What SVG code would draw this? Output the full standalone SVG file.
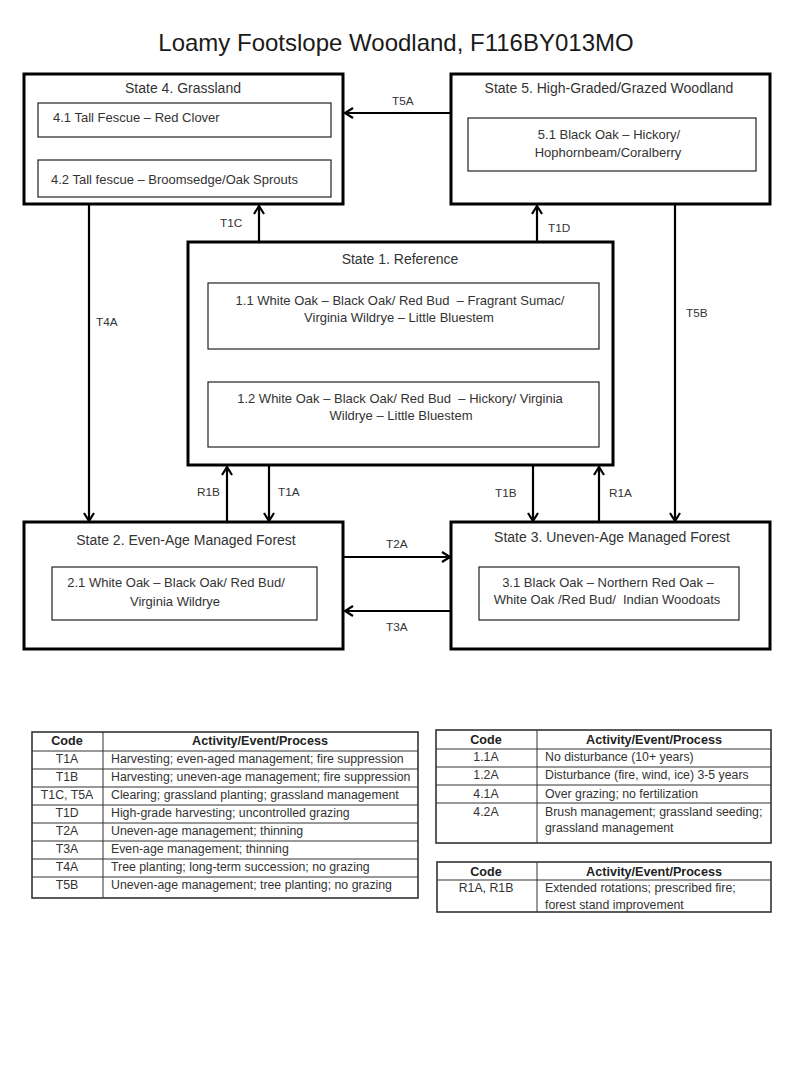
<svg xmlns="http://www.w3.org/2000/svg" width="800" height="1067" viewBox="0 0 800 1067">
<style>
text{font-family:"Liberation Sans",Arial,sans-serif;fill:#333}
.title{font-size:24px;fill:#1a1a1a}
.st{font-size:14px;text-anchor:middle}
.in{font-size:13px}
.c{text-anchor:middle}
.lb{font-size:11.8px}
.state{fill:#fff;stroke:#000;stroke-width:3}
.inner{fill:#fff;stroke:#222;stroke-width:1.2}
.main{stroke:#000;stroke-width:2.2;fill:none;marker-end:url(#ah)}
.thin{stroke:#222;stroke-width:1.1;fill:none;marker-end:url(#ahs)}
.tb{font-size:12.3px}
.th{font-size:12.6px;font-weight:bold;text-anchor:middle;fill:#222}
.grid{stroke:#333;stroke-width:1;fill:none}
.frame{stroke:#333;stroke-width:1.6;fill:none}
</style>
<defs>
<marker id="ah" markerUnits="userSpaceOnUse" viewBox="0 0 12 12" markerWidth="12" markerHeight="12" refX="10" refY="6" orient="auto">
<path d="M2,1 L10,6 L2,11" fill="none" stroke="#000" stroke-width="2.2"/>
</marker>
<marker id="ahs" markerUnits="userSpaceOnUse" viewBox="0 0 10 10" markerWidth="10" markerHeight="10" refX="9" refY="5" orient="auto">
<path d="M1,1 L9,5 L1,9" fill="none" stroke="#222" stroke-width="1.1"/>
</marker>
</defs>
<rect width="800" height="1067" fill="#fff"/>
<text class="title" x="396" y="51" text-anchor="middle">Loamy Footslope Woodland, F116BY013MO</text>

<g id="connectors">
<line class="main" x1="450" y1="113" x2="345" y2="113"/>
<line class="main" x1="259" y1="241" x2="259" y2="206"/>
<line class="main" x1="537" y1="241" x2="537" y2="206"/>
<line class="main" x1="89" y1="205" x2="89" y2="521"/>
<line class="main" x1="675" y1="205" x2="675" y2="521"/>
<line class="main" x1="227" y1="521" x2="227" y2="467"/>
<line class="main" x1="269" y1="466" x2="269" y2="521"/>
<line class="main" x1="533" y1="466" x2="533" y2="521"/>
<line class="main" x1="599" y1="521" x2="599" y2="467"/>
<line class="main" x1="344" y1="557" x2="450" y2="557"/>
<line class="main" x1="450" y1="611" x2="345" y2="611"/>
<line class="thin" x1="96" y1="138" x2="96" y2="159"/>
<line class="thin" x1="287" y1="160" x2="287" y2="138"/>
<line class="thin" x1="283" y1="350" x2="283" y2="381"/>
<line class="thin" x1="495" y1="382" x2="495" y2="350"/>
<text class="lb" x="392" y="105">T5A</text>
<text class="lb" x="220" y="227">T1C</text>
<text class="lb" x="548" y="232">T1D</text>
<text class="lb" x="96" y="326">T4A</text>
<text class="lb" x="686" y="317">T5B</text>
<text class="lb" x="197" y="496">R1B</text>
<text class="lb" x="278" y="496">T1A</text>
<text class="lb" x="495" y="497">T1B</text>
<text class="lb" x="609" y="497">R1A</text>
<text class="lb" x="386" y="548">T2A</text>
<text class="lb" x="386" y="631">T3A</text>
<text class="lb" x="106" y="153">4.1A</text>
<text class="lb" x="249" y="153">4.2A</text>
<text class="lb" x="290" y="368">1.1A</text>
<text class="lb" x="504" y="368">1.2A</text>
</g>

<g id="state4">
<rect class="state" x="24" y="74" width="319" height="130"/>
<text class="st" x="183" y="93">State 4. Grassland</text>
<g id="s4-1"><rect class="inner" x="38" y="103" width="293" height="34"/>
<text class="in" x="53" y="122">4.1 Tall Fescue – Red Clover</text></g>
<g id="s4-2"><rect class="inner" x="38" y="160" width="293" height="37"/>
<text class="in" x="51" y="184">4.2 Tall fescue – Broomsedge/Oak Sprouts</text></g>
</g>

<g id="state5">
<rect class="state" x="451" y="74" width="319" height="130"/>
<text class="st" x="609" y="93">State 5. High-Graded/Grazed Woodland</text>
<g id="s5-1"><rect class="inner" x="468" y="118" width="288" height="53"/>
<text class="in c" x="609" y="139">5.1 Black Oak – Hickory/</text>
<text class="in c" x="608" y="157">Hophornbeam/Coralberry</text></g>
</g>

<g id="state1">
<rect class="state" x="188" y="242" width="425" height="223"/>
<text class="st" x="400" y="264">State 1. Reference</text>
<g id="s1-1"><rect class="inner" x="208" y="283" width="391" height="66"/>
<text class="in c" x="400" y="305" xml:space="preserve">1.1 White Oak – Black Oak/ Red Bud  – Fragrant Sumac/</text>
<text class="in c" x="399" y="322">Virginia Wildrye – Little Bluestem</text></g>
<g id="s1-2"><rect class="inner" x="208" y="382" width="391" height="65"/>
<text class="in c" x="400" y="403" xml:space="preserve">1.2 White Oak – Black Oak/ Red Bud  – Hickory/ Virginia</text>
<text class="in c" x="401" y="420">Wildrye – Little Bluestem</text></g>
</g>

<g id="state2">
<rect class="state" x="24" y="522" width="319" height="127"/>
<text class="st" x="186" y="545">State 2. Even-Age Managed Forest</text>
<g id="s2-1"><rect class="inner" x="52" y="567" width="265" height="53"/>
<text class="in c" x="176" y="587">2.1 White Oak – Black Oak/ Red Bud/</text>
<text class="in c" x="175" y="606">Virginia Wildrye</text></g>
</g>

<g id="state3">
<rect class="state" x="451" y="522" width="319" height="127"/>
<text class="st" x="612" y="542">State 3. Uneven-Age Managed Forest</text>
<g id="s3-1"><rect class="inner" x="479" y="567" width="260" height="53"/>
<text class="in c" x="608" y="587">3.1 Black Oak – Northern Red Oak –</text>
<text class="in c" x="607" y="604" xml:space="preserve">White Oak /Red Bud/  Indian Woodoats</text></g>
</g>

<g id="table-t">
<rect class="frame" x="32" y="732" width="386" height="166"/>
<path class="grid" d="M32,751H418 M32,769H418 M32,787H418 M32,805H418 M32,823H418 M32,841H418 M32,859H418 M32,877H418 M103,732V898"/>
<text class="th" x="67" y="745">Code</text>
<text class="th" x="260" y="745">Activity/Event/Process</text>
<g class="tb">
<text class="c" x="67" y="763">T1A</text><text x="111" y="763">Harvesting; even-aged management; fire suppression</text>
<text class="c" x="67" y="781">T1B</text><text x="111" y="781">Harvesting; uneven-age management; fire suppression</text>
<text class="c" x="67" y="799">T1C, T5A</text><text x="111" y="799">Clearing; grassland planting; grassland management</text>
<text class="c" x="67" y="817">T1D</text><text x="111" y="817">High-grade harvesting; uncontrolled grazing</text>
<text class="c" x="67" y="835">T2A</text><text x="111" y="835">Uneven-age management; thinning</text>
<text class="c" x="67" y="853">T3A</text><text x="111" y="853">Even-age management; thinning</text>
<text class="c" x="67" y="871">T4A</text><text x="111" y="871">Tree planting; long-term succession; no grazing</text>
<text class="c" x="67" y="889">T5B</text><text x="111" y="889">Uneven-age management; tree planting; no grazing</text>
</g>
</g>

<g id="table-community">
<rect class="frame" x="436" y="730" width="335" height="113"/>
<path class="grid" d="M436,749H771 M436,767H771 M436,785H771 M436,803H771 M537,730V843"/>
<text class="th" x="486" y="744">Code</text>
<text class="th" x="654" y="744">Activity/Event/Process</text>
<g class="tb">
<text class="c" x="486" y="761">1.1A</text><text x="545" y="761">No disturbance (10+ years)</text>
<text class="c" x="486" y="779">1.2A</text><text x="545" y="779">Disturbance (fire, wind, ice) 3-5 years</text>
<text class="c" x="486" y="798">4.1A</text><text x="545" y="798">Over grazing; no fertilization</text>
<text class="c" x="486" y="816">4.2A</text><text x="545" y="816">Brush management; grassland seeding;</text>
<text x="545" y="832">grassland management</text>
</g>
</g>

<g id="table-restoration">
<rect class="frame" x="437" y="862" width="334" height="50"/>
<path class="grid" d="M437,880H771 M537,862V912"/>
<text class="th" x="486" y="876">Code</text>
<text class="th" x="654" y="876">Activity/Event/Process</text>
<g class="tb">
<text class="c" x="486" y="892">R1A, R1B</text><text x="545" y="892">Extended rotations; prescribed fire;</text>
<text x="545" y="909">forest stand improvement</text>
</g>
</g>
</svg>
